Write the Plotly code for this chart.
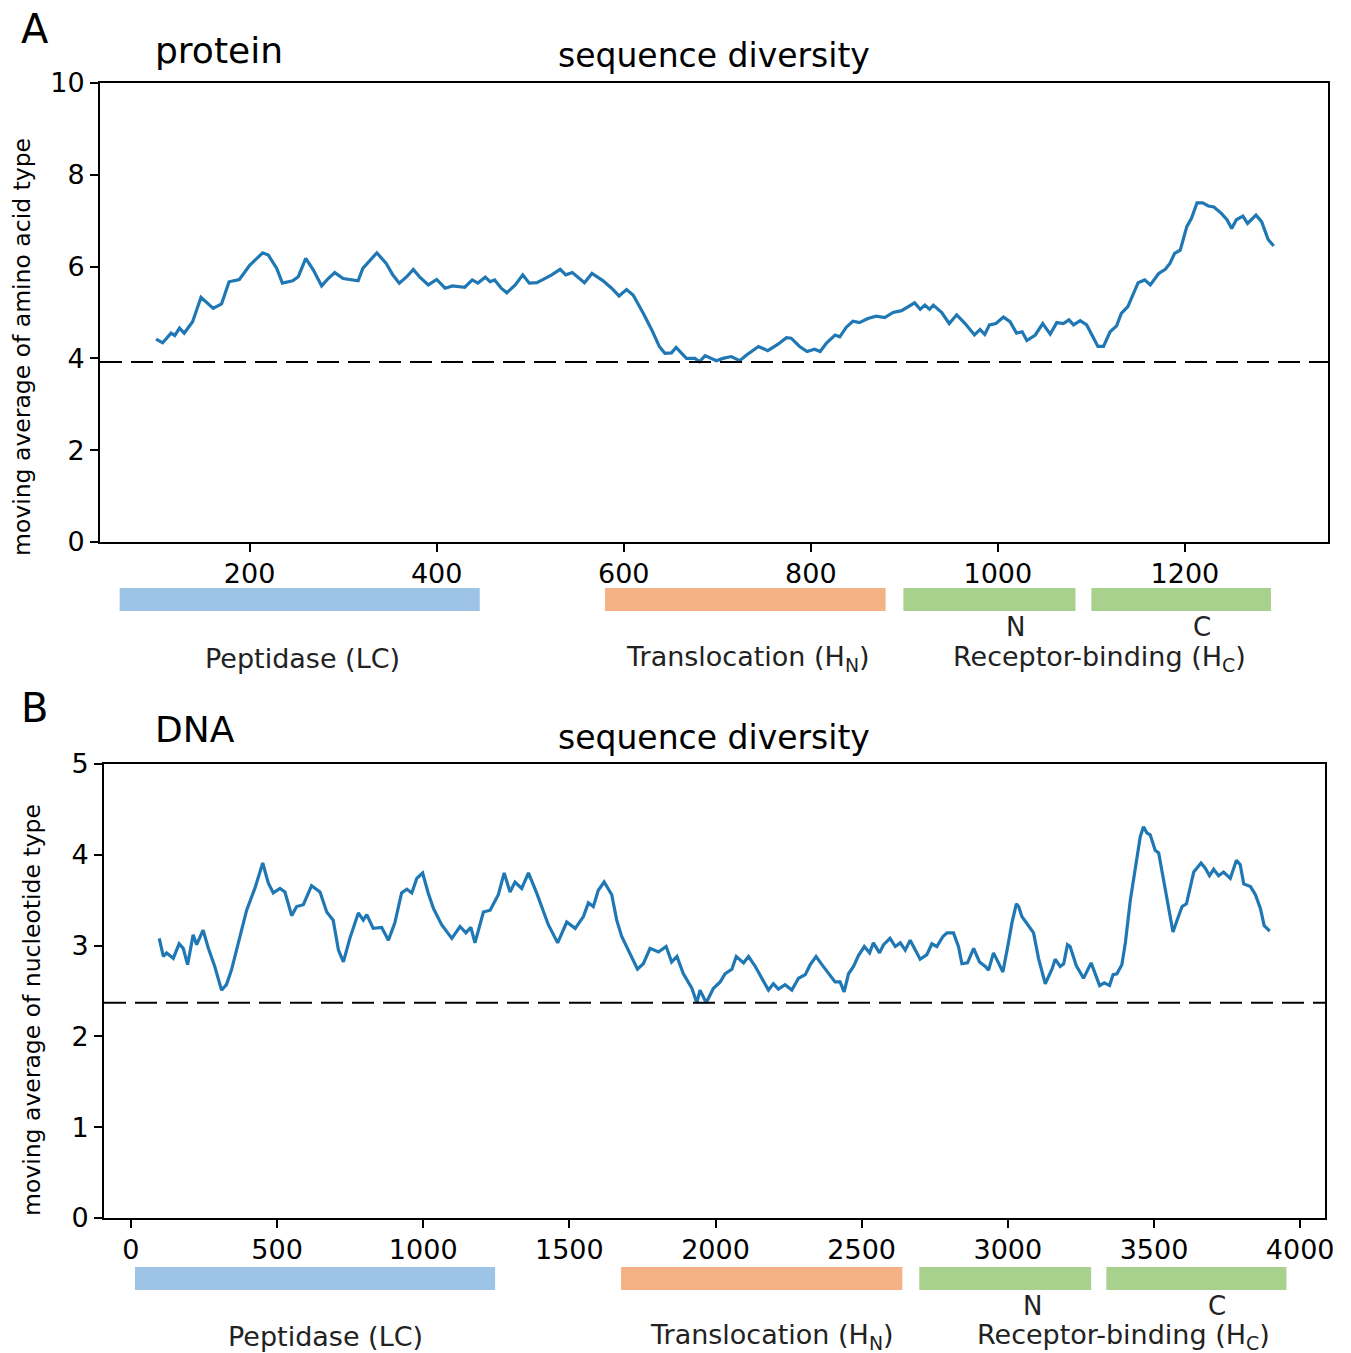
import plotly.graph_objects as go

# ---------------- data ----------------
prot_pos = [100, 107, 116, 120, 125, 130, 139, 148, 161, 170, 178, 189, 200, 214, 220, 229, 235, 246, 252, 260,
            268, 277, 284, 291, 300, 309, 316, 321, 328, 336, 346, 353, 360, 368, 375, 382, 391, 400, 409, 417,
            430, 438, 444, 452, 457, 462, 469, 475, 484, 492, 499, 507, 514, 523, 532, 538, 545, 551, 558, 566,
            578, 587, 595, 603, 610, 621, 630, 638, 644, 651, 656, 667, 676, 681, 687, 699, 706, 715, 724, 731,
            744, 754, 765, 774, 779, 788, 796, 804, 810, 817, 826, 831, 838, 845, 852, 861, 870, 879, 888, 897,
            904, 911, 917, 922, 927, 931, 940, 948, 956, 965, 975, 981, 986, 991, 998, 1006, 1013, 1020, 1026, 1031,
            1040, 1048, 1056, 1063, 1070, 1076, 1081, 1088, 1095, 1102, 1107, 1113, 1120, 1127, 1132, 1139, 1145, 1150, 1157, 1163,
            1172, 1179, 1184, 1189, 1195, 1202, 1207, 1213, 1219, 1225, 1231, 1239, 1245, 1250, 1255, 1262, 1267, 1276, 1282, 1289,
            1295]
prot_val = [4.42, 4.34, 4.55, 4.50, 4.66, 4.55, 4.80, 5.33, 5.09, 5.19, 5.67, 5.72, 6.03, 6.30, 6.25, 5.96, 5.64, 5.69, 5.78, 6.18,
            5.93, 5.58, 5.74, 5.87, 5.74, 5.71, 5.69, 5.96, 6.13, 6.30, 6.07, 5.82, 5.64, 5.78, 5.94, 5.77, 5.60, 5.72, 5.53, 5.58,
            5.55, 5.71, 5.64, 5.77, 5.67, 5.71, 5.53, 5.43, 5.60, 5.82, 5.64, 5.65, 5.72, 5.82, 5.94, 5.82, 5.87, 5.77, 5.65, 5.85,
            5.69, 5.53, 5.36, 5.50, 5.38, 4.98, 4.62, 4.26, 4.11, 4.12, 4.24, 4.00, 4.00, 3.93, 4.06, 3.95, 4.00, 4.04, 3.95, 4.07,
            4.26, 4.17, 4.31, 4.45, 4.44, 4.26, 4.15, 4.20, 4.15, 4.34, 4.51, 4.47, 4.68, 4.81, 4.78, 4.87, 4.92, 4.89, 5.00, 5.04,
            5.13, 5.21, 5.07, 5.16, 5.07, 5.16, 5.00, 4.76, 4.95, 4.76, 4.51, 4.63, 4.52, 4.73, 4.76, 4.90, 4.80, 4.55, 4.58, 4.39,
            4.51, 4.76, 4.53, 4.78, 4.76, 4.84, 4.73, 4.82, 4.73, 4.47, 4.26, 4.26, 4.58, 4.71, 4.98, 5.13, 5.42, 5.65, 5.71, 5.60,
            5.85, 5.94, 6.07, 6.29, 6.36, 6.87, 7.05, 7.39, 7.39, 7.32, 7.30, 7.16, 7.02, 6.83, 7.02, 7.10, 6.94, 7.12, 6.98, 6.59,
            6.45]

dna_pos = [97, 111, 122, 145, 165, 179, 194, 213, 225, 247, 265, 287, 310, 327, 344, 367, 396, 424, 451, 470,
           487, 510, 527, 550, 567, 590, 618, 647, 670, 692, 710, 727, 749, 778, 795, 807, 829, 858, 881, 903,
           926, 944, 961, 978, 998, 1017, 1035, 1063, 1098, 1126, 1146, 1163, 1177, 1206, 1229, 1257, 1277, 1297, 1314, 1337,
           1360, 1388, 1428, 1460, 1491, 1520, 1548, 1565, 1582, 1599, 1619, 1645, 1662, 1679, 1705, 1733, 1753, 1776, 1805, 1831,
           1850, 1868, 1890, 1919, 1936, 1947, 1968, 1993, 2016, 2033, 2056, 2071, 2096, 2113, 2136, 2158, 2181, 2198, 2215, 2238,
           2261, 2284, 2307, 2324, 2344, 2364, 2386, 2409, 2426, 2440, 2455, 2472, 2489, 2509, 2527, 2540, 2561, 2575, 2597, 2615,
           2632, 2649, 2666, 2700, 2723, 2740, 2757, 2778, 2792, 2814, 2831, 2843, 2862, 2883, 2903, 2923, 2934, 2951, 2968, 2983,
           3002, 3014, 3029, 3037, 3048, 3071, 3088, 3105, 3128, 3151, 3162, 3179, 3191, 3204, 3213, 3234, 3259, 3285, 3314, 3330,
           3348, 3360, 3373, 3390, 3402, 3419, 3436, 3453, 3464, 3476, 3487, 3504, 3516, 3533, 3550, 3565, 3579, 3596, 3611, 3624,
           3636, 3661, 3676, 3690, 3704, 3721, 3738, 3761, 3782, 3795, 3807, 3830, 3847, 3864, 3877, 3896]
dna_val = [3.08, 2.88, 2.92, 2.86, 3.02, 2.97, 2.79, 3.12, 3.01, 3.17, 2.97, 2.77, 2.51, 2.57, 2.73, 3.03, 3.39, 3.63, 3.91, 3.69,
           3.58, 3.63, 3.59, 3.33, 3.43, 3.45, 3.66, 3.59, 3.37, 3.28, 2.95, 2.82, 3.08, 3.36, 3.28, 3.34, 3.19, 3.20, 3.06, 3.25,
           3.58, 3.62, 3.58, 3.74, 3.80, 3.58, 3.41, 3.23, 3.08, 3.21, 3.14, 3.20, 3.03, 3.37, 3.39, 3.56, 3.80, 3.59, 3.70, 3.63,
           3.80, 3.58, 3.23, 3.03, 3.26, 3.19, 3.32, 3.47, 3.43, 3.61, 3.70, 3.56, 3.28, 3.10, 2.93, 2.74, 2.80, 2.97, 2.93, 2.99,
           2.82, 2.88, 2.69, 2.53, 2.37, 2.51, 2.37, 2.53, 2.60, 2.69, 2.74, 2.88, 2.81, 2.88, 2.77, 2.64, 2.51, 2.58, 2.52, 2.57,
           2.51, 2.64, 2.68, 2.79, 2.88, 2.79, 2.69, 2.60, 2.60, 2.49, 2.69, 2.77, 2.89, 2.99, 2.92, 3.03, 2.92, 3.01, 3.08, 2.99,
           3.03, 2.95, 3.06, 2.85, 2.90, 3.02, 2.99, 3.10, 3.14, 3.14, 2.99, 2.80, 2.81, 2.97, 2.82, 2.77, 2.73, 2.92, 2.81, 2.71,
           3.03, 3.25, 3.46, 3.43, 3.32, 3.22, 3.14, 2.86, 2.58, 2.74, 2.85, 2.77, 2.80, 3.01, 2.99, 2.78, 2.64, 2.81, 2.56, 2.59,
           2.56, 2.68, 2.69, 2.79, 3.03, 3.50, 3.85, 4.20, 4.31, 4.24, 4.22, 4.05, 4.02, 3.72, 3.39, 3.15, 3.28, 3.43, 3.46, 3.63,
           3.81, 3.91, 3.85, 3.77, 3.84, 3.77, 3.81, 3.74, 3.94, 3.89, 3.68, 3.65, 3.56, 3.41, 3.22, 3.16]

prot_baseline = 3.92
dna_baseline = 2.37

domain_labels = ["Peptidase (LC)", "Translocation (H<sub>N</sub>)", "Receptor-binding (H<sub>C</sub>)"]
subdomain_labels = ["N", "C"]
domain_colors = ["#9DC3E6", "#F4B183", "#A9D18E", "#A9D18E"]

prot_dom_start = [61, 580, 899, 1100]
prot_dom_end = [446, 880, 1083, 1292]
dna_dom_start = [14, 1677, 2697, 3337]
dna_dom_end = [1246, 2639, 3285, 3953]

prot_label_x = [257, 733, 1109]
prot_nc_x = [1019, 1218]
dna_label_x = [667, 2194, 3395]
dna_nc_x = [3084, 3717]

prot_xticks = [200, 400, 600, 800, 1000, 1200]
prot_yticks = [0, 2, 4, 6, 8, 10]
dna_xticks = [0, 500, 1000, 1500, 2000, 2500, 3000, 3500, 4000]
dna_yticks = [0, 1, 2, 3, 4, 5]

# ---------------- figure ----------------
W, H = 1351, 1353
FONT = "DejaVu Sans"
LINE_COLOR = "#1f77b4"


def py(p):
    """pixel row -> paper y"""
    return 1 - p / H


def px(p):
    return p / W


fig = go.Figure()
fig.add_trace(go.Scatter(x=prot_pos, y=prot_val, mode="lines",
                         line=dict(color=LINE_COLOR, width=3.2), xaxis="x", yaxis="y", showlegend=False))
fig.add_trace(go.Scatter(x=dna_pos, y=dna_val, mode="lines",
                         line=dict(color=LINE_COLOR, width=3.2), xaxis="x2", yaxis="y2", showlegend=False))

axis_common = dict(showline=True, mirror=True, linecolor="black", linewidth=2, ticks="outside",
                   ticklen=8, tickwidth=2, tickcolor="black", showgrid=False, zeroline=False,
                   automargin=False, tickfont=dict(family=FONT, size=27, color="black"))

fig.update_layout(
    width=W, height=H, margin=dict(l=0, r=0, t=0, b=0, pad=0),
    paper_bgcolor="white", plot_bgcolor="white",
    font=dict(family=FONT, color="black"),
    xaxis=dict(domain=[px(100), px(1328)], range=[40, 1353], anchor="y", tickvals=prot_xticks,
               ticklabelstandoff=-1, **axis_common),
    yaxis=dict(domain=[py(542), py(83)], range=[0, 10], anchor="x", tickvals=prot_yticks, **axis_common),
    xaxis2=dict(domain=[px(104), px(1325)], range=[-92, 4085], anchor="y2", tickvals=dna_xticks,
                ticklabelstandoff=-1, **axis_common),
    yaxis2=dict(domain=[py(1218), py(764)], range=[0, 5], anchor="x2", tickvals=dna_yticks, **axis_common),
)

shapes = []
for xr, base in (("x", prot_baseline), ("x2", dna_baseline)):
    shapes.append(dict(type="line", xref=xr + " domain", x0=0, x1=1, yref="y" if xr == "x" else "y2",
                       y0=base, y1=base, line=dict(color="black", width=2, dash="22px,9px")))

for starts, ends, xr, (ytop, ybot) in ((prot_dom_start, prot_dom_end, "x", (588, 611)),
                                       (dna_dom_start, dna_dom_end, "x2", (1267, 1290))):
    for s, e, c in zip(starts, ends, domain_colors):
        shapes.append(dict(type="rect", xref=xr, yref="paper", x0=s, x1=e, y0=py(ybot), y1=py(ytop),
                           fillcolor=c, line=dict(width=0), layer="above"))
fig.update_layout(shapes=shapes)

ann = []


def text(x, y, t, size, xref="paper", xanchor="center", angle=0, color="black"):
    ann.append(dict(x=x, y=y, xref=xref, yref="paper", text=t, showarrow=False, xanchor=xanchor,
                    yanchor="middle", textangle=angle, borderpad=0,
                    font=dict(family=FONT, size=size, color=color)))


# panel letters and titles
text(px(20), py(29), "A", 40, xanchor="left")
text(px(154), py(50), "protein", 36, xanchor="left")
text(px(714), py(56), "sequence diversity", 33)
text(px(20), py(708), "B", 40, xanchor="left")
text(px(154), py(729), "DNA", 36, xanchor="left")
text(px(714), py(737), "sequence diversity", 33)

# y axis titles
text(px(22), py(347), "moving average of amino acid type", 23.5, angle=-90)
text(px(32), py(1010), "moving average of nucleotide type", 23.5, angle=-90)

# domain labels
for lx, lab in zip(prot_label_x, domain_labels):
    text(lx, py(658), lab, 27, xref="x", color="#222222")
for lx, lab in zip(prot_nc_x, subdomain_labels):
    text(lx, py(627), lab, 26, xref="x", color="#222222")
for lx, lab in zip(dna_label_x, domain_labels):
    text(lx, py(1336), lab, 27, xref="x2", color="#222222")
for lx, lab in zip(dna_nc_x, subdomain_labels):
    text(lx, py(1306), lab, 26, xref="x2", color="#222222")

fig.update_layout(annotations=ann)

fig.write_html("out.html", config={"displayModeBar": False},
               post_script="document.body.style.margin='0';document.body.style.overflow='hidden';")
